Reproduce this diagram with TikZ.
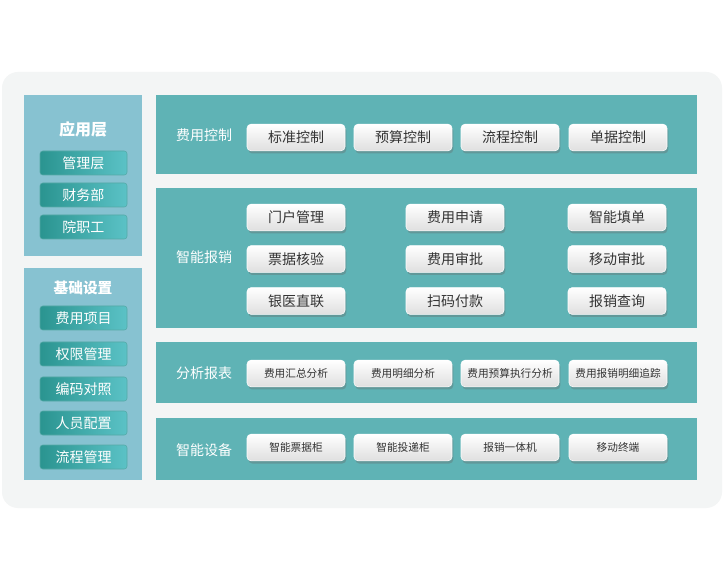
\documentclass[tikz,border=0pt]{standalone}
\usepackage{fontspec}
\setmainfont{Noto Sans CJK SC}
\usetikzlibrary{shadows}
\definecolor{bgc}{HTML}{F3F5F5}
\definecolor{lp}{HTML}{87C2D1}
\definecolor{rp}{HTML}{5FB3B5}
\definecolor{tdark}{HTML}{2A9490}
\definecolor{tlight}{HTML}{5BC2C6}
\begin{document}
\begin{tikzpicture}[x=0.75pt,y=-0.75pt,
  tbtn/.style={rounded corners=2pt,draw=tdark!80,line width=0.4pt,left color=tdark,right color=tlight,text=white,font=\fontsize{10.5}{12}\selectfont,minimum width=65.25pt,minimum height=18pt,inner sep=0pt},
  wbtn/.style={rounded corners=3pt,draw=white,line width=0.4pt,top color=white,bottom color=gray!25,text=black!80,minimum width=73.5pt,minimum height=20pt,inner sep=0pt,drop shadow={shadow xshift=1pt,shadow yshift=-2pt,opacity=0.35,fill=black!60}},
  wb/.style={wbtn,font=\fontsize{10.5}{12}\selectfont},
  ws/.style={wbtn,font=\fontsize{8}{10}\selectfont},
  ttl/.style={text=white,font=\fontsize{10.5}{12}\selectfont},
  big/.style={text=white,font=\bfseries\fontsize{12}{14}\selectfont}]
\useasboundingbox (0,0) rectangle (725,577);
\fill[white] (0,0) rectangle (725,577);
\fill[bgc,rounded corners=12pt] (2,72) rectangle (722,508);
\fill[lp] (24,95) rectangle (142,256);
\fill[lp] (24,268) rectangle (142,480);
\fill[rp] (156,95) rectangle (697,174);
\fill[rp] (156,188) rectangle (697,328);
\fill[rp] (156,342) rectangle (697,403);
\fill[rp] (156,418) rectangle (697,480);
\node[big] (yyc) at (83,129) {应用层};
\node[tbtn] (l1) at (83.5,163) {管理层};
\node[tbtn] (l2) at (83.5,195) {财务部};
\node[tbtn] (l3) at (83.5,227) {院职工};
\node[big,font=\bfseries\fontsize{11}{13}\selectfont] (jc) at (83,288) {基础设置};
\node[tbtn] (b1) at (83.5,318) {费用项目};
\node[tbtn] (b2) at (83.5,354) {权限管理};
\node[tbtn] (b3) at (83.5,389) {编码对照};
\node[tbtn] (b4) at (83.5,423) {人员配置};
\node[tbtn] (b5) at (83.5,457) {流程管理};
\node[ttl] (t1) at (204,135) {费用控制};
\node[wb] (a1) at (296,137.5) {标准控制};
\node[wb] (a2) at (403,137.5) {预算控制};
\node[wb] (a3) at (510,137.5) {流程控制};
\node[wb] (a4) at (618,137.5) {单据控制};
\node[ttl] (t2) at (204,257) {智能报销};
\node[wb] (c1) at (296,217.5) {门户管理};
\node[wb] (c2) at (455,217.5) {费用申请};
\node[wb] (c3) at (617,217.5) {智能填单};
\node[wb] (c4) at (296,259) {票据核验};
\node[wb] (c5) at (455,259) {费用审批};
\node[wb] (c6) at (617,259) {移动审批};
\node[wb] (c7) at (296,301) {银医直联};
\node[wb] (c8) at (455,301) {扫码付款};
\node[wb] (c9) at (617,301) {报销查询};
\node[ttl] (t3) at (204,373) {分析报表};
\node[ws] (d1) at (296,373.5) {费用汇总分析};
\node[ws] (d2) at (403,373.5) {费用明细分析};
\node[ws] (d3) at (510,373.5) {费用预算执行分析};
\node[ws] (d4) at (618,373.5) {费用报销明细追踪};
\node[ttl] (t4) at (204,450) {智能设备};
\node[ws] (e1) at (296,447.5) {智能票据柜};
\node[ws] (e2) at (403,447.5) {智能投递柜};
\node[ws] (e3) at (510,447.5) {报销一体机};
\node[ws] (e4) at (618,447.5) {移动终端};
\end{tikzpicture}
\end{document}
